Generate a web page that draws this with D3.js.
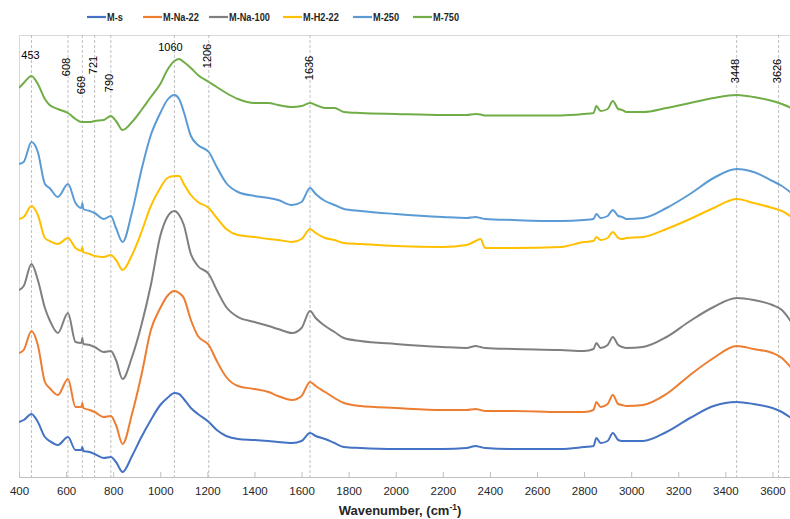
<!DOCTYPE html>
<html><head><meta charset="utf-8">
<script src="https://cdn.jsdelivr.net/npm/d3@7"></script>
<style>
html,body{margin:0;padding:0;background:#fff;}
svg{display:block;}
</style></head>
<body>
<svg id="chart" width="790" height="519"></svg>
<script>
// Wavenumbers (cm-1) at which the spectra were read
const wavenumbers = [400,420,453,480,510,530,565,608,640,665,669,673,700,721,760,790,812,840,880,920,960,1000,1030,1060,1080,1100,1130,1160,1206,1240,1280,1330,1400,1460,1500,1560,1600,1636,1660,1700,1740,1780,1850,2000,2200,2300,2340,2360,2380,2500,2700,2800,2840,2852,2870,2900,2922,2945,2962,2980,3050,3150,3250,3350,3448,3520,3600,3640,3680];

// Offset absorbance (a.u.) for each sample
const M_s      = [55,57,63,55,40,36,32,40,27,27,30,26,25,23,19,20,15,5,21,40,57,72,79,84,83,78,69,63,55,47,41,38,37,36,35,34,36,44,41,38,34,30,29,28,28,29,31,30,29,28,28,30,31,39,34,36,44,37,36,36,36,45,59,71,75,73,69,65,59];
const M_Na_22  = [124,127,146,132,95,89,82,98,70,70,74,69,67,65,60,61,52,33,63,102,147,169,181,186,184,179,157,141,132,116,100,91,88,85,81,77,81,95,91,85,79,74,71,69,67,67,68,67,66,66,65,65,67,75,70,73,82,73,72,71,72,83,102,119,131,128,124,119,109];
const M_Na_100 = [187,191,213,197,169,157,144,164,135,134,139,133,132,130,125,126,117,98,120,152,192,241,260,266,262,252,223,211,203,187,170,160,155,151,148,144,149,166,159,151,145,139,136,133,130,129,131,130,129,128,127,126,128,134,129,132,140,132,130,129,130,140,156,170,179,177,172,167,155];
const M_H2_22  = [258,260,271,262,239,236,233,239,229,226,230,225,223,221,220,222,217,207,222,245,271,289,299,301,301,293,282,275,269,259,248,242,240,238,237,235,238,248,244,239,237,234,233,231,230,232,236,238,229,229,230,235,236,240,237,239,245,239,238,239,240,248,258,269,278,274,269,266,260];
const M_250    = [313,315,335,325,293,289,280,293,274,269,274,268,266,264,258,261,249,235,265,307,342,364,377,382,378,365,341,332,325,310,294,285,281,279,277,272,275,289,283,276,272,268,266,263,260,259,260,259,258,257,256,257,258,263,259,261,267,261,260,258,259,269,283,299,308,305,296,291,284];
const M_750    = [389,394,401,393,378,372,368,364,358,355,355,355,355,356,357,361,356,347,355,367,380,393,407,416,418,415,409,402,395,390,384,378,374,374,372,370,371,374,372,369,369,365,364,363,362,362,363,362.5,361.5,361.5,361.5,363,364,371,366,368,376,368,367,365,365,369,374,379,382,380,376,373,369];

const seriesNames  = ["M-s","M-Na-22","M-Na-100","M-H2-22","M-250","M-750"];
const seriesValues = [M_s, M_Na_22, M_Na_100, M_H2_22, M_250, M_750];
const seriesColors = ["#4472C4","#ED7D31","#7F7F7F","#FFC000","#5B9BD5","#70AD47"];

const xTicks = [400,600,800,1000,1200,1400,1600,1800,2000,2200,2400,2600,2800,3000,3200,3400,3600];
const peakMarks = [453,608,669,721,790,1060,1206,1636,3448,3626];
const peakLabelHorizontal = [453,1060];
const peakLabelY = {453:55,608:67,669:85,721:65,790:83,1060:47,1206:56,1636:68,3448:71,3626:71};

const svg = d3.select("#chart");
const plot = {left:19, right:796, top:35, bottom:477};

const x = d3.scaleLinear().domain([400,3700]).range([plot.left, plot.right]);
const y = d3.scaleLinear().domain([0,442]).range([plot.bottom, plot.top]);

svg.append("defs").append("clipPath").attr("id","clip")
  .append("rect").attr("x",plot.left).attr("y",plot.top)
  .attr("width",790-plot.left).attr("height",plot.bottom-plot.top+2);

// plot border
svg.append("rect").attr("x",plot.left+0.5).attr("y",plot.top+0.5)
  .attr("width",plot.right-plot.left).attr("height",plot.bottom-plot.top)
  .attr("fill","none").attr("stroke","#d9d9d9").attr("stroke-width",1);

// peak dashed lines
svg.append("g").selectAll("line").data(peakMarks).join("line")
  .attr("x1",d=>x(d)).attr("x2",d=>x(d))
  .attr("y1",plot.top).attr("y2",plot.bottom)
  .attr("stroke","#b0b0b0").attr("stroke-width",0.8)
  .attr("stroke-dasharray","3,2");

// x axis
const xAxis = d3.axisBottom(x).tickValues(xTicks).tickSize(-5).tickPadding(10).tickFormat(d3.format("d"));
const gx = svg.append("g").attr("transform",`translate(0,${plot.bottom})`).call(xAxis);
gx.select(".domain").attr("stroke","#bfbfbf");
gx.selectAll(".tick line").attr("stroke","#bfbfbf");
gx.selectAll(".tick text").attr("font-family","'Liberation Sans', Arial, sans-serif")
  .attr("font-size","11.5px").attr("fill","#262626");

// axis title
const title = svg.append("text").attr("x",400).attr("y",515)
  .attr("text-anchor","middle").attr("font-family","'Liberation Sans', Arial, sans-serif")
  .attr("font-size","13px").attr("font-weight","bold").attr("fill","#262626");
title.append("tspan").text("Wavenumber, (cm");
title.append("tspan").attr("dy",-5).attr("font-size","8.5px").text("-1");
title.append("tspan").attr("dy",5).text(")");

// series lines
const line = d3.line().x((d,i)=>x(wavenumbers[i])).y(d=>y(d)).curve(d3.curveMonotoneX);
const lines = svg.append("g").attr("clip-path","url(#clip)");
seriesValues.forEach((vals,k)=>{
  lines.append("path").datum(vals).attr("d",line)
    .attr("fill","none").attr("stroke",seriesColors[k]).attr("stroke-width",2)
    .attr("stroke-linejoin","round");
});

// peak labels
const lab = svg.append("g").attr("font-family","'Liberation Sans', Arial, sans-serif")
  .attr("font-size","11px").attr("fill","#000");
peakMarks.forEach(p=>{
  if (peakLabelHorizontal.includes(p)) {
    lab.append("text").attr("x",x(p)-(p===1060?4:1)).attr("y",peakLabelY[p])
      .attr("text-anchor","middle").attr("dominant-baseline","central").text(p);
  } else {
    const cx = x(p)-1.5, cy = peakLabelY[p];
    lab.append("text").attr("transform",`translate(${cx},${cy}) rotate(-90)`)
      .attr("text-anchor","middle").attr("dominant-baseline","central").text(p);
  }
});

// legend
const legendX = [87,143,209,283,353,413];
const leg = svg.append("g");
seriesNames.forEach((n,k)=>{
  const g = leg.append("g").attr("transform",`translate(${legendX[k]},17)`);
  g.append("line").attr("x1",0).attr("x2",19).attr("y1",0).attr("y2",0)
    .attr("stroke",seriesColors[k]).attr("stroke-width",2.2);
  g.append("g").attr("transform","translate(20,0) scale(0.8,1)")
    .append("text").attr("x",0).attr("y",0).attr("dominant-baseline","central")
    .attr("font-family","'Liberation Sans', Arial, sans-serif")
    .attr("font-weight","bold").attr("font-size","11.5px").attr("fill","#262626").text(n);
});
</script>
</body></html>
